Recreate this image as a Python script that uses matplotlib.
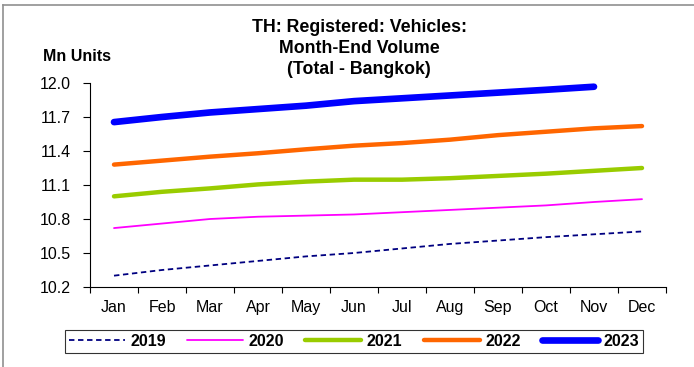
import matplotlib
matplotlib.use("Agg")
from matplotlib import pyplot as plt
from matplotlib.lines import Line2D
import numpy as np

plt.rcParams['font.family'] = ['Liberation Sans', 'DejaVu Sans']

months = ["Jan", "Feb", "Mar", "Apr", "May", "Jun",
          "Jul", "Aug", "Sep", "Oct", "Nov", "Dec"]

# month-end registered vehicles, Bangkok (Mn units)
v2019 = [10.30, 10.35, 10.39, 10.43, 10.47, 10.50, 10.54, 10.58, 10.61, 10.64, 10.665, 10.69]
v2020 = [10.72, 10.76, 10.80, 10.82, 10.83, 10.84, 10.86, 10.88, 10.90, 10.92, 10.95, 10.975]
v2021 = [11.00, 11.04, 11.07, 11.105, 11.13, 11.147, 11.147, 11.16, 11.18, 11.20, 11.225, 11.25]
v2022 = [11.28, 11.315, 11.35, 11.38, 11.415, 11.447, 11.47, 11.50, 11.54, 11.57, 11.60, 11.62]
v2023 = [11.655, 11.70, 11.74, 11.77, 11.80, 11.84, 11.865, 11.89, 11.915, 11.94, 11.967]

series = [
    ("2019", v2019, "#000080", 1.3, (0, (3, 2))),
    ("2020", v2020, "#FF00FF", 1.3, "-"),
    ("2021", v2021, "#99CC00", 3.2, "-"),
    ("2022", v2022, "#FF6600", 3.2, "-"),
    ("2023", v2023, "#0000FF", 4.8, "-"),
]

fig = plt.figure(figsize=(6.94, 3.67), dpi=100)
ax = fig.add_axes([90 / 694, 80 / 367, 576 / 694, 204 / 367])

for name, vals, col, lw, ls in series:
    x = np.arange(len(vals))
    ax.plot(x, vals, color=col, lw=lw, ls=ls, label=name,
            solid_capstyle="round", dash_capstyle="butt")

ax.set_xlim(-0.5, 11.5)
ax.set_ylim(10.2, 12.0)
yt = np.arange(10.2, 12.01, 0.3)
ax.set_yticks(yt)
ax.set_yticklabels(["%.1f" % t for t in yt])
ax.set_xticks(range(12))
ax.set_xticklabels(months)
ax.set_xticks(np.arange(-0.5, 12, 1), minor=True)
ax.tick_params(axis="x", which="major", length=0, pad=9.5, labelsize=11.5)
ax.tick_params(axis="x", which="minor", length=4, direction="out", width=0.8)
ax.tick_params(axis="y", length=5, direction="out", width=0.8, labelsize=11.5, pad=9)
for s in ["top", "right"]:
    ax.spines[s].set_visible(False)
for s in ["left", "bottom"]:
    ax.spines[s].set_linewidth(0.8)

fig.text(359 / 694, 1 - 19 / 367, "TH: Registered: Vehicles:\nMonth-End Volume\n(Total - Bangkok)",
         ha="center", va="top", fontsize=12.8, fontweight="bold", linespacing=1.32)
fig.text(43 / 694, 1 - 56.5 / 367, "Mn Units", ha="left", va="center",
         fontsize=11.5, fontweight="bold")

leg = ax.legend(loc="center", mode="expand",
                bbox_to_anchor=(65 / 694, 1 - 355 / 367, 578 / 694, 27 / 367),
                bbox_transform=fig.transFigure, ncol=5, frameon=True,
                fancybox=False, edgecolor="black", handlelength=3.5,
                handletextpad=0.35, borderpad=0.25, borderaxespad=0,
                prop={"weight": "bold", "size": 11.5})
leg.get_frame().set_linewidth(0.8)

# outer chart frame
fig.add_artist(Line2D([3 / 694, 3 / 694], [0, 1 - 5 / 367], color="#909090", lw=1.2,
                      transform=fig.transFigure))
fig.add_artist(Line2D([3 / 694, 1], [1 - 5 / 367, 1 - 5 / 367], color="#909090", lw=1.2,
                      transform=fig.transFigure))

plt.savefig("out.png", dpi=100)
